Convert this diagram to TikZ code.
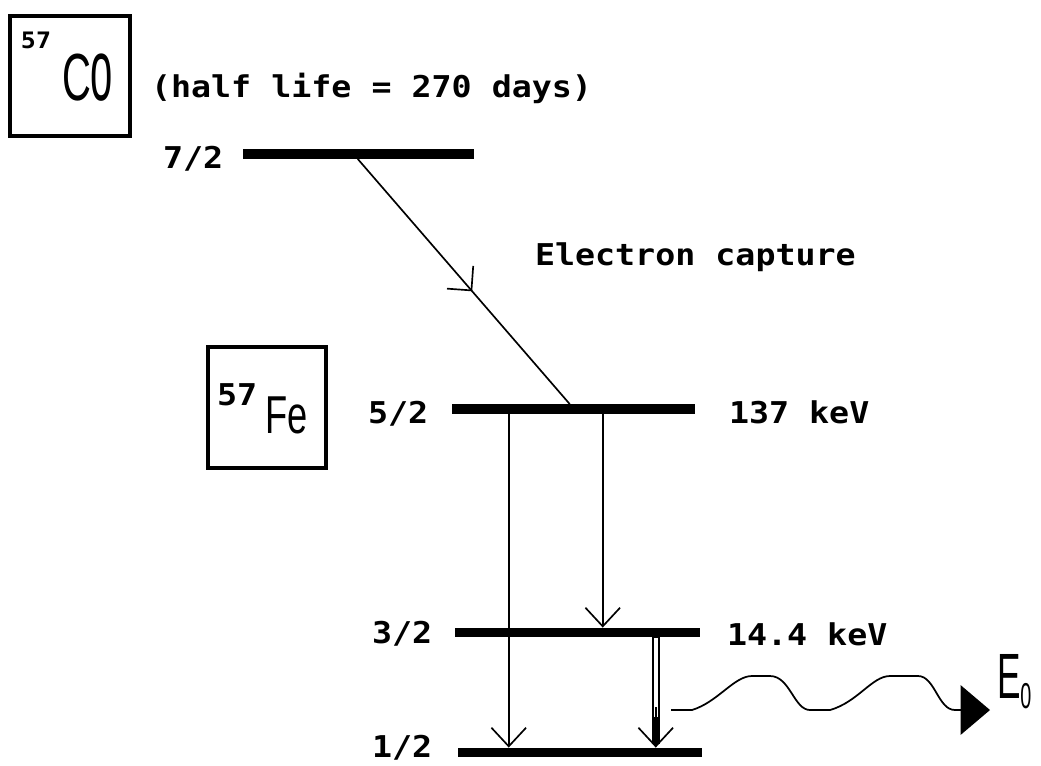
\documentclass[tikz,border=0pt]{standalone}
\usepackage{fontspec}
\usetikzlibrary{arrows.meta,calc,decorations.markings}
\newfontfamily\monofnt{DejaVu Sans Mono}
\newfontfamily\isofnt{Liberation Sans}
\newcommand{\mlab}[1]{\scalebox{1.11}[1]{\monofnt\bfseries\fontsize{22.5}{24}\selectfont #1}}
\tikzset{
  lbl/.style={anchor=base west, inner sep=0pt, outer sep=0pt},
  level/.style={fill=black, draw=none, inner sep=0pt, minimum height=7pt},
  isobox/.style={draw, line width=2.6pt, inner sep=0pt},
  barb/.style={line width=1.25pt, -{Straight Barb[length=14pt,width=26pt]}},
  midbarb/.style={line width=1.25pt, postaction={decorate}, decoration={markings,
     mark=at position 0.54 with {\arrow{Straight Barb[length=13pt,width=26pt,line width=1.25pt]}}}}
}
\begin{document}
\begin{tikzpicture}[x=0.75pt,y=-0.75pt]
\useasboundingbox (0,0) rectangle (1041,765);
% isotope boxes
\node[isobox, minimum width=90pt, minimum height=90pt] (cobox) at (70,76) {};
\node[isobox, minimum width=88.5pt, minimum height=90.75pt] (febox) at (267,407.5) {};
\node[lbl] (co57) at (21,48) {\scalebox{1.1}[1]{\monofnt\bfseries\fontsize{17}{18}\selectfont 57}};
\node[lbl] (coname) at (62,100) {\scalebox{0.6}[1]{\isofnt\fontsize{50}{50}\selectfont C\scalebox{1}[1.3]{o}}};
\node[lbl] (fe57) at (217,405) {\mlab{57}};
\node[lbl] (fename) at (265,433) {\scalebox{0.68}[1]{\isofnt\fontsize{40}{40}\selectfont Fe}};
% texts
\node[lbl] (half) at (151,97) {\mlab{(half life = 270 days)}};
\node[lbl] (ec) at (535,265) {\mlab{Electron capture}};
\node[lbl] (s72) at (163,168) {\mlab{7/2}};
\node[lbl] (s52) at (368,423) {\mlab{5/2}};
\node[lbl] (s32) at (372,643) {\mlab{3/2}};
\node[lbl] (s12) at (372,757) {\mlab{1/2}};
\node[lbl] (e137) at (729,423) {\mlab{137 keV}};
\node[lbl] (e144) at (727,645) {\mlab{14.4 keV}};
% levels
\node[level, minimum width=173.25pt] (L72) at (358.5,154) {};
\node[level, minimum width=182.25pt] (L52) at (573.5,409) {};
\node[level, minimum width=183.75pt] (L32) at (577.5,632.5) {};
\node[level, minimum width=183pt] (L12) at (580,752.5) {};
% transitions
\draw[midbarb] ($(L72.south west)+(115,0)$) -- ($(L52.north west)+(118,0)$);
\draw[barb] ($(L52.south west)+(57,0)$) -- ($(L12.north west)+(51,0)$);
\draw[barb] ($(L52.south west)+(151,0)$) -- ($(L32.north west)+(148,0)$);
\draw[line width=6pt] ($(L32.south west)+(201,0)$) -- ($(L12.north west)+(198,-4)$);
\draw[line width=3pt, white] ($(L32.south west)+(201,0.5)$) -- ($(L32.south west)+(201,80)$);
\draw[barb] ($(L32.south west)+(201,70)$) -- ($(L12.north west)+(198,0)$);
% gamma ray
\coordinate (g0) at (671,710);
\coordinate (g1) at (990,710);
\draw[line width=1.3pt, -{Triangle[length=22pt,width=37pt]}] (g0) -- (692,710)
  .. controls (718,702) and (734,676) .. (752,676) -- (770,676)
  .. controls (790,676) and (794,710) .. (810,710) -- (830,710)
  .. controls (858,702) and (872,676) .. (890,676) -- (918,676)
  .. controls (935,676) and (938,710) .. (955,710) -- (g1);
\node[lbl] (E0) at (997,698) {\scalebox{0.55}[1]{\isofnt\fontsize{48}{48}\selectfont E\raisebox{-7.5pt}{\fontsize{27}{27}\selectfont 0}}};
\end{tikzpicture}
\end{document}
